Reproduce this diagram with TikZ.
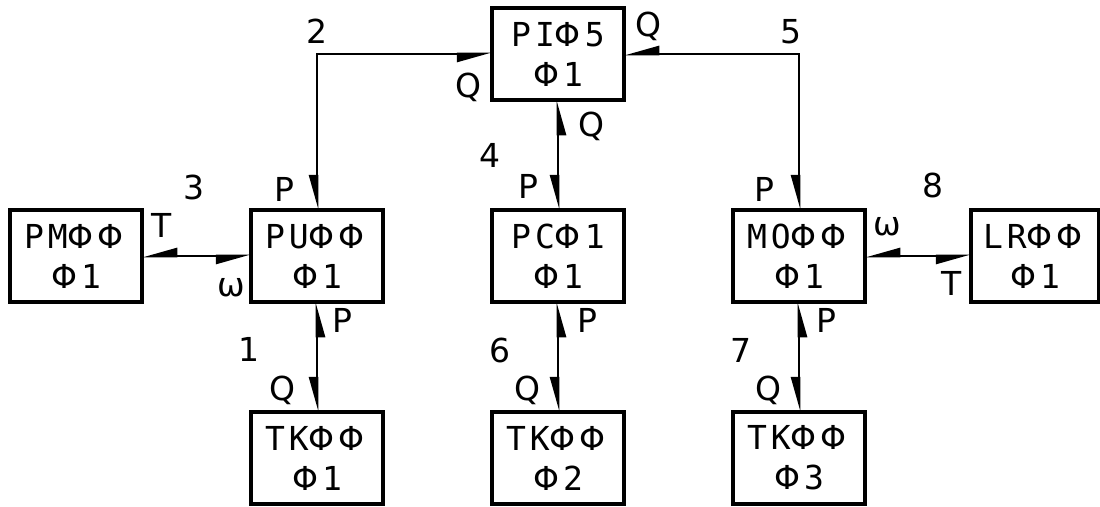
\documentclass[tikz,border=0pt]{standalone}
\usepackage{fontspec}
\newfontfamily\lettering[LetterSpace=12]{DejaVu Sans Mono}
\newfontfamily\labelfont{DejaVu Sans}
\newcommand\ph{{\labelfont Φ}\kern4pt}
\usetikzlibrary{arrows.meta, positioning}

\begin{document}
\begin{tikzpicture}[
  x=1pt, y=1pt,
  node distance=110pt and 109pt,
  block/.style={draw, line width=3.2pt, minimum width=132pt, minimum height=92pt,
    align=center, inner sep=0pt, outer sep=0pt,
    font=\fontsize{33}{40}\selectfont\lettering},
  lbl/.style={inner sep=0pt, font=\fontsize{33}{40}\selectfont\labelfont},
  bond/.style={line width=2.8pt,
    {Triangle[right, length=30pt, width=16pt]}-{Triangle[right, length=30pt, width=16pt]}},
]
  \useasboundingbox (0,0) rectangle (1100,-506);

  % blocks
  \node[block] (pi) at (558,-54) {PI\ph5\\\ph1};
  \node[block, below=of pi] (pc) {PC\ph1\\\ph1};
  \node[block, left=of pc]  (pu) {PU\ph\ph\\\ph1};
  \node[block, left=of pu]  (pm) {PM\ph\ph\\\ph1};
  \node[block, right=of pc] (mo) {MO\ph\ph\\\ph1};
  \node[block, right=106pt of mo, minimum width=128pt] (lr) {LR\ph\ph\\\ph1};
  \node[block, below=of pu] (tka) {TK\ph\ph\\\ph1};
  \node[block, below=of pc] (tkb) {TK\ph\ph\\\ph2};
  \node[block, below=of mo] (tkc) {TK\ph\ph\\\ph3};

  % bonds
  \draw[bond] (pi) -| (pu)
    node[lbl, pos=0.066, below=18pt] (q2) {Q}
    node[lbl, pos=0.5, above=9pt] (n2) {2}
    node[lbl, pos=0.935, left=21pt] (p2) {P};
  \draw[bond] (pi) -| (mo)
    node[lbl, pos=0.07, above=12pt] (q5) {Q}
    node[lbl, pos=0.5, above=9pt, xshift=-8pt] (n5) {5}
    node[lbl, pos=0.935, left=23pt] (p5) {P};
  \draw[bond] (pi) -- (pc)
    node[lbl, pos=0.24, right=19pt] (q4) {Q}
    node[lbl, midway, left=56pt] (n4) {4}
    node[lbl, pos=0.79, left=18pt] (p4) {P};
  \draw[bond] (pm) -- (pu)
    node[lbl, pos=0.18, above=17pt] (t3) {T}
    node[lbl, pos=0.48, above=55pt] (n3) {3}
    node[lbl, pos=0.82, below=21pt] (w3) {ω};
  \draw[bond] (mo) -- (lr)
    node[lbl, pos=0.21, above=19pt] (w8) {ω}
    node[lbl, pos=0.64, above=57pt] (n8) {8}
    node[lbl, pos=0.82, below=14pt] (t8) {T};
  \draw[bond] (pu) -- (tka)
    node[lbl, pos=0.17, right=14pt] (p1) {P}
    node[lbl, pos=0.43, left=56pt] (n1) {1}
    node[lbl, pos=0.8, left=20pt] (q1) {Q};
  \draw[bond] (pc) -- (tkb)
    node[lbl, pos=0.17, right=18pt] (p6) {P}
    node[lbl, pos=0.44, left=46pt] (n6) {6}
    node[lbl, pos=0.8, left=16pt] (q6) {Q};
  \draw[bond] (mo) -- (tkc)
    node[lbl, pos=0.17, right=16pt] (p7) {P}
    node[lbl, pos=0.44, left=46pt] (n7) {7}
    node[lbl, pos=0.8, left=16pt] (q7) {Q};
\end{tikzpicture}
\end{document}
